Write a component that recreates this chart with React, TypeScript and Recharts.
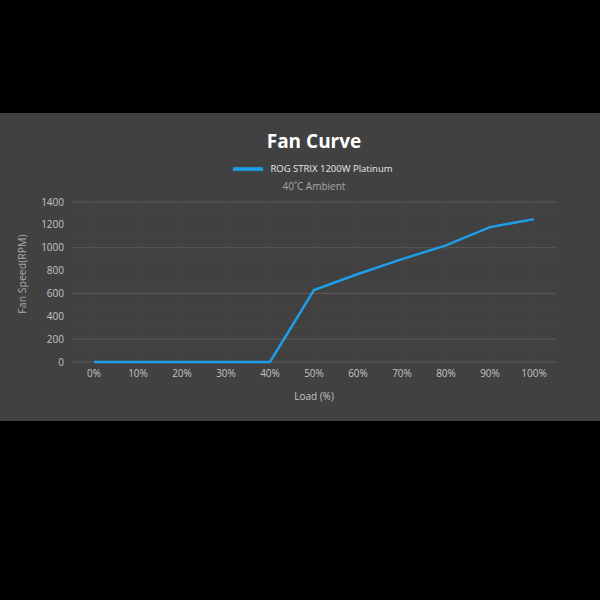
import React from 'react';
import {
  LineChart,
  Line,
  XAxis,
  YAxis,
  CartesianGrid,
  Legend,
  ReferenceLine,
} from 'recharts';

const loads = [0, 10, 20, 30, 40, 50, 60, 70, 80, 90, 100];
const rpm = [0, 0, 0, 0, 0, 630, 770, 900, 1020, 1180, 1250];
const yTicks = [0, 200, 400, 600, 800, 1000, 1200, 1400];
const yMinor = [100, 300, 500, 700, 900, 1100, 1300];
const seriesName = 'ROG STRIX 1200W Platinum';

const chartData = loads.map((l, i) => ({ load: l, rpm: rpm[i] }));

const FONT = '"Open Sans", "Noto Sans", sans-serif';

const App: React.FC = () => {
  return (
    <div style={{ width: 600, height: 600, background: '#000', position: 'relative', fontFamily: FONT }}>
      <style>{'body{margin:0}'}</style>
      <div
        style={{
          position: 'absolute',
          top: 113,
          left: 0,
          width: 600,
          height: 308,
          background: '#414141',
        }}
      >
        <div
          style={{
            position: 'absolute',
            top: 15,
            left: 0,
            width: 628,
            textAlign: 'center',
            color: '#fff',
            fontSize: 19,
            fontWeight: 700,
          }}
        >
          Fan Curve
        </div>
        <div
          style={{
            position: 'absolute',
            top: 66,
            left: 0,
            width: 628,
            textAlign: 'center',
            color: '#a8a8a8',
            fontSize: 10,
          }}
        >
          40˚C Ambient
        </div>
        <LineChart
          width={600}
          height={308}
          data={chartData}
          margin={{ top: 59, right: 44, left: 0, bottom: 19 }}
        >
          {yMinor.map((v) => (
            <ReferenceLine key={`hy-${v}`} y={v} stroke="#474747" />
          ))}
          {loads.map((v) => (
            <ReferenceLine key={`vx-${v}`} x={v} stroke="#464646" />
          ))}
          <CartesianGrid stroke="#5a5a5a" vertical={false} />
          <XAxis
            dataKey="load"
            type="number"
            domain={[-5, 105]}
            ticks={loads}
            tickFormatter={(v) => `${v}%`}
            tick={{ fill: '#c4c4c4', fontSize: 10 }}
            axisLine={false}
            tickLine={false}
            height={40}
            label={{ value: 'Load (%)', position: 'insideBottom', offset: 2, fill: '#c4c4c4', fontSize: 10 }}
          />
          <YAxis
            domain={[0, 1400]}
            ticks={yTicks}
            tick={{ fill: '#c4c4c4', fontSize: 10 }}
            axisLine={false}
            tickLine={false}
            width={72}
            label={{ value: 'Fan Speed(RPM)', angle: -90, position: 'center', dx: -14, dy: -8, fill: '#a8a8a8', fontSize: 10.5 }}
          />
          <Legend
            verticalAlign="top"
            align="center"
            iconType="plainline"
            iconSize={30}
            wrapperStyle={{ top: 41, left: 40, fontSize: 9.5 }}
            formatter={(value) => <span style={{ color: '#e8e8e8', marginLeft: 3 }}>{value}</span>}
          />
          <Line
            type="linear"
            dataKey="rpm"
            name={seriesName}
            stroke="#1e9de9"
            strokeWidth={2.5}
            dot={false}
            isAnimationActive={false}
          />
        </LineChart>
      </div>
    </div>
  );
};

export default App;
